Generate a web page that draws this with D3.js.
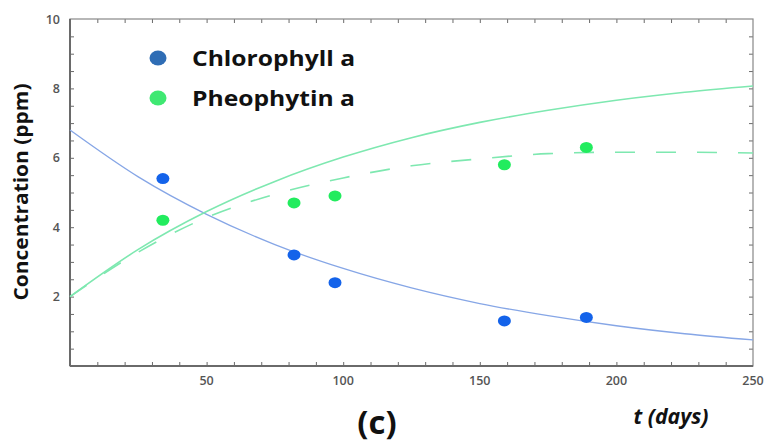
<!DOCTYPE html>
<html><head><meta charset="utf-8">
<script src="https://cdn.jsdelivr.net/npm/d3@7"></script>
<style>body{margin:0;background:#fff;} svg{display:block;}</style>
</head><body>
<svg id="c" width="770" height="446"></svg>
<script>
// Measured points
const chloT = [34, 82, 97, 159, 189];
const chloC = [5.4, 3.2, 2.4, 1.3, 1.4];
const pheoT = [34, 82, 97, 159, 189];
const pheoC = [4.2, 4.7, 4.9, 5.8, 6.3];
// Fitted curves
const curveT = [0, 25, 50, 75, 100, 125, 150, 175, 200, 225, 250];
const chloFit = [6.8, 5.45, 4.37, 3.50, 2.81, 2.25, 1.80, 1.45, 1.16, 0.93, 0.75];
const pheoFit = [2.0, 3.36, 4.45, 5.32, 6.02, 6.58, 7.02, 7.37, 7.66, 7.89, 8.07];
const pheoFit2 = [2.0, 3.28, 4.28, 4.95, 5.42, 5.77, 5.97, 6.12, 6.16, 6.16, 6.14];
const xTicks = [50, 100, 150, 200, 250];
const yTicks = [2, 4, 6, 8, 10];
const legendLabels = ["Chlorophyll a", "Pheophytin a"];

const svg = d3.select("#c");
const L = 70, R = 753, T = 19, B = 366;
const x = d3.scaleLinear().domain([0, 250]).range([L, R]);
const y = d3.scaleLinear().domain([0, 10]).range([B, T]);
const axisCol = "#6a6a6a";
const OS = "'Open Sans', sans-serif";

// minor/major ticks (inward) on all four sides
const xt = d3.range(10, 250, 10);
const yt = d3.range(0.5, 10, 0.5);
const g = svg.append("g");
g.append("g").attr("transform", `translate(0,${B})`)
  .call(d3.axisTop(x).tickValues(xt).tickSize(4).tickFormat(""));
g.append("g").attr("transform", `translate(0,${T})`)
  .call(d3.axisBottom(x).tickValues(xt).tickSize(4).tickFormat(""));
g.append("g").attr("transform", `translate(${L},0)`)
  .call(d3.axisRight(y).tickValues(yt).tickSize(4).tickFormat(""));
g.append("g").attr("transform", `translate(${R},0)`)
  .call(d3.axisLeft(y).tickValues(yt).tickSize(4).tickFormat(""));
g.selectAll(".domain").remove();
g.selectAll(".tick line").attr("stroke", axisCol).attr("stroke-width", 1);

// frame
svg.append("rect").attr("x", L).attr("y", T).attr("width", R - L).attr("height", B - T)
  .attr("fill", "none").attr("stroke", "#888").attr("stroke-width", 1.2);
svg.append("line").attr("x1", L).attr("x2", L).attr("y1", T).attr("y2", B)
  .attr("stroke", axisCol).attr("stroke-width", 2);
svg.append("line").attr("x1", L).attr("x2", R).attr("y1", B).attr("y2", B)
  .attr("stroke", axisCol).attr("stroke-width", 2);

// tick labels
svg.append("g").selectAll("text").data(yTicks).join("text")
  .attr("x", L - 10).attr("y", d => y(d) + 4.5)
  .attr("text-anchor", "end").attr("font-family", OS)
  .attr("font-size", 12.5).attr("font-weight", 600).attr("fill", "#555").text(d => d);
svg.append("g").selectAll("text").data(xTicks).join("text")
  .attr("x", d => x(d)).attr("y", B + 19)
  .attr("text-anchor", "middle").attr("font-family", OS)
  .attr("font-size", 12.5).attr("font-weight", 600).attr("fill", "#555").text(d => d);

// curves
const line = d3.line().x(d => x(d[0])).y(d => y(d[1])).curve(d3.curveMonotoneX);
svg.append("path").datum(d3.zip(curveT, chloFit)).attr("d", line)
  .attr("fill", "none").attr("stroke", "#86a6e6").attr("stroke-width", 1.3);
svg.append("path").datum(d3.zip(curveT, pheoFit)).attr("d", line)
  .attr("fill", "none").attr("stroke", "#7ee8b0").attr("stroke-width", 1.6);
svg.append("path").datum(d3.zip(curveT, pheoFit2)).attr("d", line)
  .attr("fill", "none").attr("stroke", "#7ee8b0").attr("stroke-width", 1.6)
  .attr("stroke-dasharray", "20,21");

// points
svg.append("g").selectAll("ellipse").data(d3.zip(chloT, chloC)).join("ellipse")
  .attr("cx", d => x(d[0])).attr("cy", d => y(d[1])).attr("rx", 6.5).attr("ry", 5.5)
  .attr("fill", "#1463ea");
svg.append("g").selectAll("ellipse").data(d3.zip(pheoT, pheoC)).join("ellipse")
  .attr("cx", d => x(d[0])).attr("cy", d => y(d[1])).attr("rx", 6.5).attr("ry", 5.5)
  .attr("fill", "#22ec5e");

// legend
const legCols = ["#2f6db5", "#3fe872"];
const leg = svg.append("g").selectAll("g").data(legendLabels).join("g")
  .attr("transform", (d, i) => `translate(158,${58 + i * 40})`);
leg.append("ellipse").attr("rx", 8.5).attr("ry", 7.5).attr("fill", (d, i) => legCols[i]);
leg.append("text").attr("x", 34).attr("y", 8).attr("font-family", OS)
  .attr("font-weight", 700).attr("font-size", 21).attr("fill", "#111")
  .attr("textLength", 163).attr("lengthAdjust", "spacingAndGlyphs").text(d => d);

// axis titles
svg.append("text").attr("transform", "translate(28,192) rotate(-90)")
  .attr("text-anchor", "middle").attr("font-family", OS)
  .attr("font-weight", 700).attr("font-size", 19).attr("fill", "#111")
  .attr("textLength", 217).attr("lengthAdjust", "spacingAndGlyphs")
  .text("Concentration  (ppm)");
svg.append("text").attr("x", 671).attr("y", 424).attr("text-anchor", "middle")
  .attr("font-family", OS).attr("font-style", "italic")
  .attr("font-weight", 700).attr("font-size", 21).attr("fill", "#111")
  .attr("textLength", 75).attr("lengthAdjust", "spacingAndGlyphs").text("t (days)");
svg.append("text").attr("x", 377).attr("y", 434).attr("text-anchor", "middle")
  .attr("font-family", OS).attr("font-weight", 700)
  .attr("font-size", 33).attr("fill", "#111").text("(c)");
</script>
</body></html>
